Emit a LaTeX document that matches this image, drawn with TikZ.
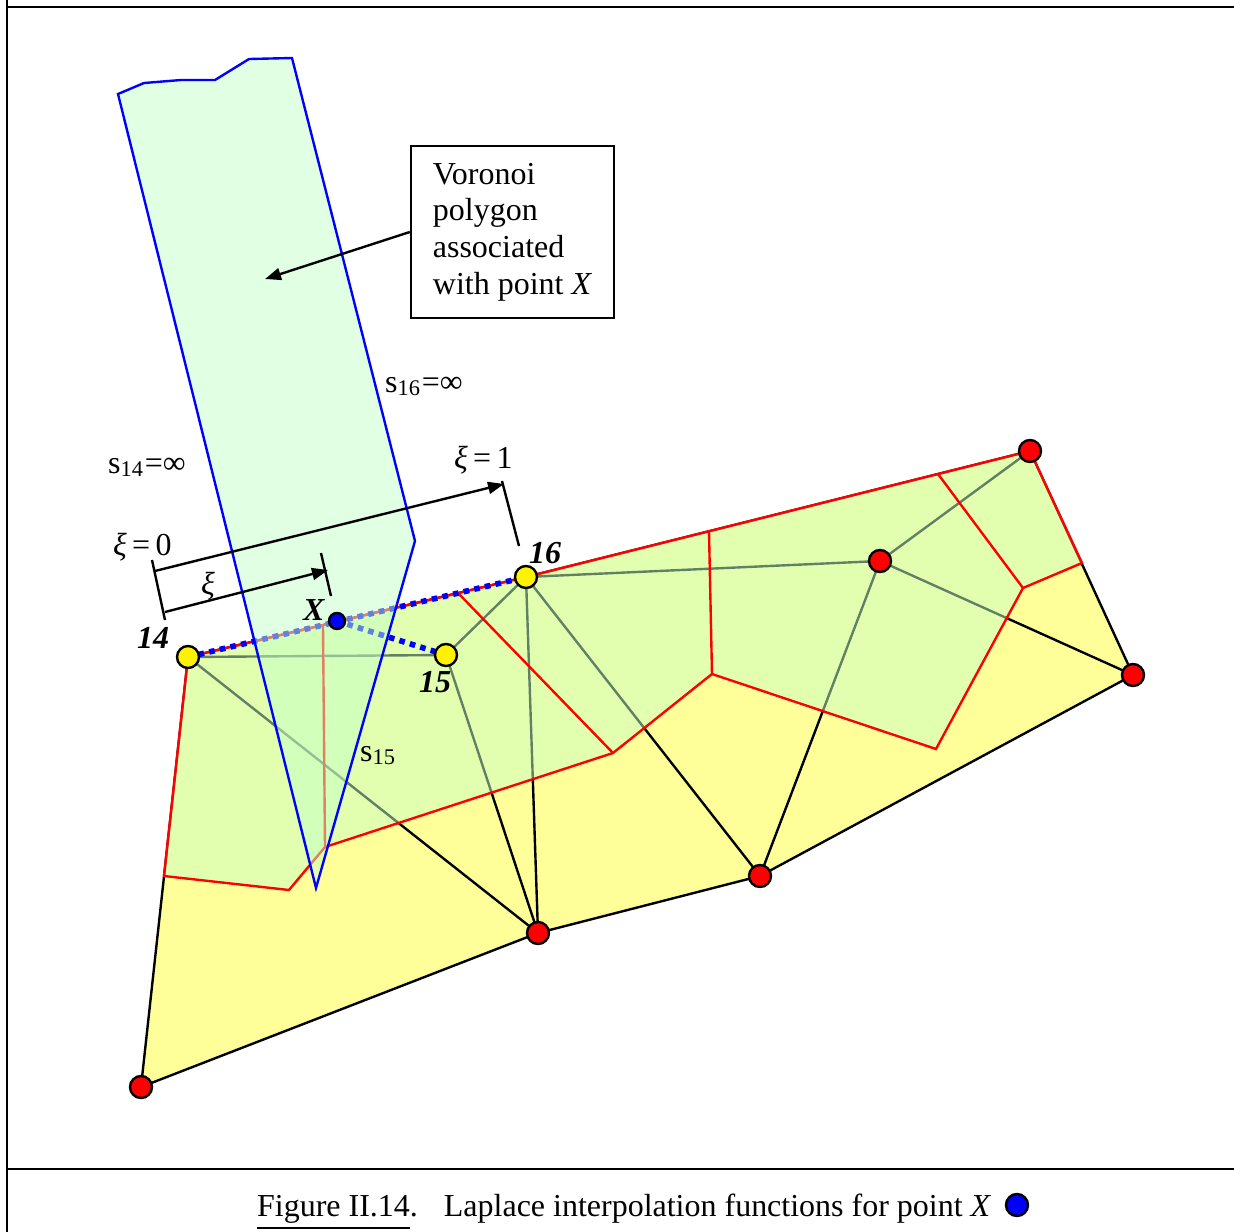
\documentclass[tikz,border=0pt]{standalone}
\usepackage{fontspec}
\setmainfont{Liberation Serif}
\usetikzlibrary{arrows.meta}

\definecolor{hullyellow}{RGB}{255,255,153}
\definecolor{cellgreen}{RGB}{196,255,198}

\begin{document}
\begin{tikzpicture}[
      line width=0.68pt,
      site/.style={
        circle,
        draw,
        fill=red,
        minimum size=2.2mm,
        inner sep=0pt
      },
      natural/.style={
        circle,
        draw,
        fill=yellow,
        minimum size=2.2mm,
        inner sep=0pt
      },
      probe/.style={
        circle,
        draw,
        fill=blue,
        minimum size=1.6mm,
        inner sep=0pt
      },
      lbl/.style={
        inner sep=0pt,
        anchor=base west,
        font=\fontsize{9.1}{10.5}\selectfont
      },
      cellfill/.style={
        fill=cellgreen,
        fill opacity=0.5
      },
      voronoi/.style={red},
      nbpath/.style={
        blue,
        line width=1.6pt,
        dash pattern=on 1.6pt off 1.5pt
      },
      dimarrow/.style={-{Triangle[length=1.6mm,width=1.2mm]}}
    ]
      \useasboundingbox (0,0) rectangle (12.34,-12.32);

      \coordinate (p14) at (1.88,-6.57);
      \coordinate (p15) at (4.46,-6.55);
      \coordinate (p16) at (5.26,-5.77);
      \coordinate (px) at (3.37,-6.21);
      \coordinate (r1) at (10.30,-4.51);
      \coordinate (r2) at (8.80,-5.61);
      \coordinate (r3) at (11.33,-6.75);
      \coordinate (r4) at (7.60,-8.76);
      \coordinate (r5) at (5.38,-9.33);
      \coordinate (r6) at (1.41,-10.87);

      \coordinate (v1) at (10.82,-5.63);
      \coordinate (v2) at (10.23,-5.88);
      \coordinate (v3) at (9.36,-7.49);
      \coordinate (v4) at (7.12,-6.74);
      \coordinate (v5) at (6.13,-7.53);
      \coordinate (v6) at (3.25,-8.47);
      \coordinate (v7) at (2.89,-8.90);
      \coordinate (v8) at (1.64,-8.76);
      \coordinate (h1) at (4.58,-5.93);
      \coordinate (h2) at (7.09,-5.31);
      \coordinate (h3) at (9.38,-4.74);
      \coordinate (h4) at (3.23,-6.25);

      \coordinate (c1) at (1.18,-0.94);
      \coordinate (c2) at (1.44,-0.83);
      \coordinate (c3) at (1.81,-0.80);
      \coordinate (c4) at (2.15,-0.80);
      \coordinate (c5) at (2.49,-0.59);
      \coordinate (c6) at (2.92,-0.58);
      \coordinate (c7) at (4.15,-5.41);
      \coordinate (c8) at (3.16,-8.88);

      \draw[fill=hullyellow] (p14) -- (p16) -- (r1) -- (r3) -- (r4) -- (r5) -- (r6) -- cycle;

      \draw (p14) -- (p15);
      \draw (p15) -- (p16);
      \draw (p14) -- (r5);
      \draw (p15) -- (r5);
      \draw (p16) -- (r5);
      \draw (p16) -- (r4);
      \draw (p16) -- (r2);
      \draw (r2) -- (r1);
      \draw (r2) -- (r3);
      \draw (r2) -- (r4);

      \fill[cellfill] (p14) -- (p16) -- (r1) -- (v1) -- (v2) -- (v3) -- (v4)
        -- (v5) -- (v6) -- (v7) -- (v8) -- cycle;
      \draw[voronoi] (p14) -- (p16) -- (r1) -- (v1) -- (v2) -- (v3) -- (v4)
        -- (v5) -- (v6) -- (v7) -- (v8) -- cycle;
      \draw[voronoi] (h1) -- (v5);
      \draw[voronoi] (h2) -- (v4);
      \draw[voronoi] (h3) -- (v2);
      \draw[voronoi] (h4) -- (v6);

      \draw[nbpath] (p14) -- (p16);
      \draw[nbpath] (px) -- (p15);

      \draw[cellfill, draw=blue] (c1) -- (c2) -- (c3) -- (c4) -- (c5) -- (c6)
        -- (c7) -- (c8) -- cycle;

      \node[natural] (n14) at (p14) {};
      \node[natural] (n15) at (p15) {};
      \node[natural] (n16) at (p16) {};
      \node[probe] (nx) at (px) {};
      \node[site] (s1) at (r1) {};
      \node[site] (s2) at (r2) {};
      \node[site] (s3) at (r3) {};
      \node[site] (s4) at (r4) {};
      \node[site] (s5) at (r5) {};
      \node[site] (s6) at (r6) {};

      \node[lbl] (l14) at (1.36,-6.48) {\textbf{\textit{14}}};
      \node[lbl] (l15) at (4.18,-6.92) {\textbf{\textit{15}}};
      \node[lbl] (l16) at (5.28,-5.63) {\textbf{\textit{16}}};
      \node[lbl] (lx) at (3.02,-6.20) {\textbf{\textit{X}}};

      \node[lbl] (ls14) at (1.07,-4.73) {s\textsubscript{14}=∞};
      \node[lbl] (ls16) at (3.84,-3.92) {s\textsubscript{16}=∞};
      \node[lbl] (ls15) at (3.59,-7.61) {s\textsubscript{15}};

      \coordinate (t0a) at (1.52,-5.60);
      \coordinate (t0b) at (1.65,-6.20);
      \coordinate (t1a) at (5.02,-4.81);
      \coordinate (t1b) at (5.19,-5.46);
      \coordinate (txa) at (3.21,-5.53);
      \coordinate (txb) at (3.31,-5.96);
      \coordinate (d0) at (1.55,-5.71);
      \coordinate (d1) at (5.04,-4.84);
      \coordinate (e0) at (1.65,-6.12);
      \coordinate (e1) at (3.28,-5.70);

      \draw (t0a) -- (t0b);
      \draw (t1a) -- (t1b);
      \draw (txa) -- (txb);
      \draw[dimarrow] (d0) -- (d1);
      \draw[dimarrow] (e0) -- (e1);

      \node[lbl] (xi0) at (1.12,-5.55) {\textit{ξ}\,=\,0};
      \node[lbl] (xi1) at (4.53,-4.68) {\textit{ξ}\,=\,1};
      \node[lbl, anchor=center] (xi) at (2.08,-5.86) {\textit{ξ}};

      \node[
        draw,
        minimum width=2.03cm,
        minimum height=1.72cm,
        align=left,
        font=\fontsize{9.1}{10.45}\selectfont
      ] (vbox) at (5.125,-2.32)
        {Voronoi\\polygon\\associated\\with point \textit{X}};

      \coordinate (tip) at (2.65,-2.79);
      \draw[dimarrow] (vbox.west) -- (tip);

      \coordinate (fa) at (0.07,0);
      \coordinate (fb) at (0.07,-12.32);
      \coordinate (fc) at (0.07,-0.07);
      \coordinate (fd) at (12.34,-0.07);
      \coordinate (fe) at (0.07,-11.69);
      \coordinate (ff) at (12.34,-11.69);
      \draw[line width=0.75pt] (fa) -- (fb);
      \draw[line width=0.75pt] (fc) -- (fd);
      \draw[line width=0.75pt] (fe) -- (ff);

      \node[lbl] (cap) at (2.56,-12.16)
        {\underline{Figure II.14}.\hspace{0.26cm}Laplace interpolation functions for point \textit{X}};
      \node[probe, minimum size=2.2mm] (capdot) at (10.17,-12.05) {};
    \end{tikzpicture}
\end{document}
